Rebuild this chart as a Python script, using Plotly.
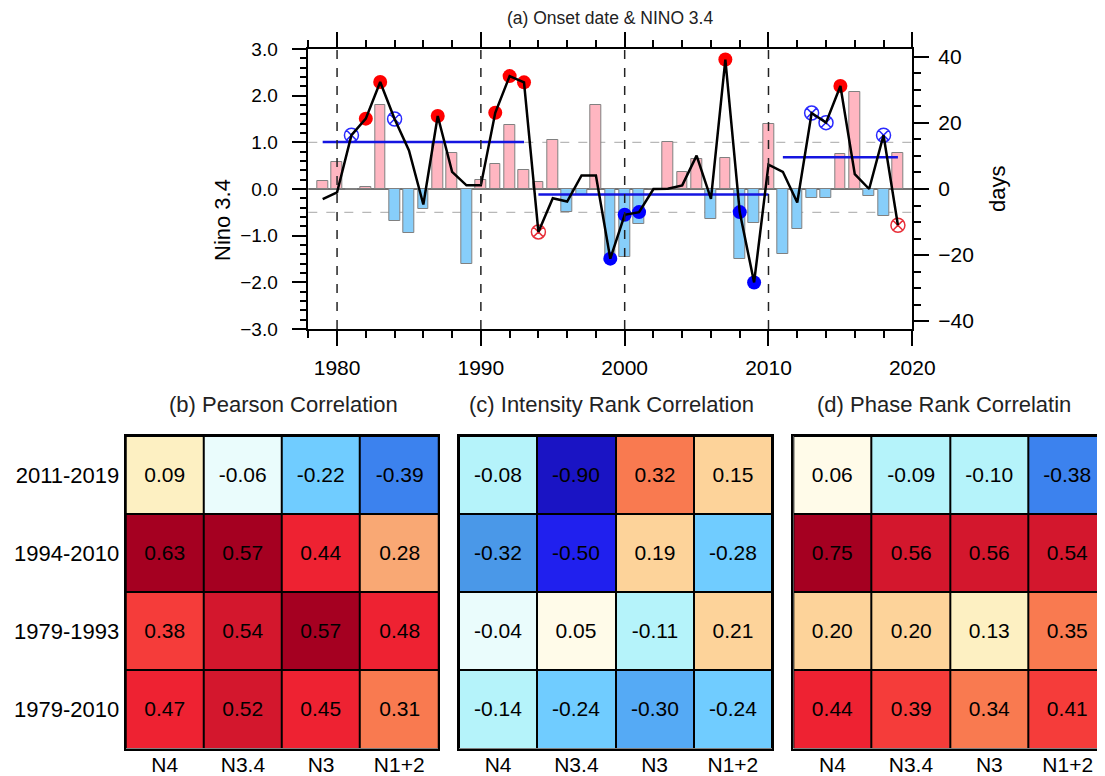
import plotly.graph_objects as go

# ---------------- data ----------------
years = list(range(1979, 2020))
nino34 = [0.17, 0.58, -0.03, 0.04, 1.81, -0.69, -0.94, -0.42, 1.00, 0.77,
          -1.61, 0.20, 0.53, 1.38, 0.41, 0.15, 1.05, -0.49, -0.13, 1.81,
          -1.48, -1.46, -0.74, 0.00, 1.00, 0.36, 0.64, -0.65, 0.66, -1.51,
          -0.72, 1.39, -1.40, -0.85, -0.19, -0.19, 0.74, 2.08, -0.16, -0.58, 0.77]
onset_days = [-3.1, -1.0, 16.3, 21.3, 32.4, 21.2, 11.7, -4.7, 22.1, 5.2,
              1.1, 1.1, 23.1, 34.2, 32.3, -13.0, -2.8, -3.8, 4.1, 4.1,
              -21.1, -7.8, -7.0, 0.0, 0.1, 1.1, 10.1, -3.0, 39.2, -7.0,
              -28.3, 7.4, 5.2, -4.1, 23.0, 20.1, 31.2, 4.5, 0.0, 16.3, -11.0]
red_dot_years = [1982, 1983, 1987, 1991, 1992, 1993, 2007, 2015]
blue_dot_years = [1999, 2000, 2001, 2008, 2009]
blue_cross_years = [1981, 1984, 2013, 2014, 2018]
red_cross_years = [1994, 2019]
period_start = [1979, 1994, 2011]
period_end = [1993, 2010, 2019]
period_mean_days = [14.2, -1.7, 9.6]
decade_lines = [1980, 1990, 2000, 2010]
nino_thresholds = [1.0, -0.5]

indices = ["N4", "N3.4", "N3", "N1+2"]
periods = ["2011-2019", "1994-2010", "1979-1993", "1979-2010"]
pearson = [[0.09, -0.06, -0.22, -0.39],
           [0.63, 0.57, 0.44, 0.28],
           [0.38, 0.54, 0.57, 0.48],
           [0.47, 0.52, 0.45, 0.31]]
intensity_rank = [[-0.08, -0.90, 0.32, 0.15],
                  [-0.32, -0.50, 0.19, -0.28],
                  [-0.04, 0.05, -0.11, 0.21],
                  [-0.14, -0.24, -0.30, -0.24]]
phase_rank = [[0.06, -0.09, -0.10, -0.38],
              [0.75, 0.56, 0.56, 0.54],
              [0.20, 0.20, 0.13, 0.35],
              [0.44, 0.39, 0.34, 0.41]]

# discrete colour levels
levels = [-1, -0.6, -0.45, -0.35, -0.31, -0.29, -0.2, -0.07, 0, 0.07, 0.14,
          0.25, 0.3, 0.37, 0.43, 0.5, 0.565, 1]
level_colors = ["#1a14c4", "#2020ee", "#3c82ee", "#4a98e8", "#55aaf5", "#70ccff",
                "#b5f3fa", "#eafcfc", "#fffbe9", "#fdf0c2", "#fdd39a", "#f9a874",
                "#f97a50", "#f53c3a", "#ee2232", "#d3172d", "#a50021"]

# ---------------- helpers ----------------
OFF = 8  # page body margin of the html page
W, H = 1105 - OFF, 776 - OFF
FONT = "Liberation Sans, Arial, Helvetica, sans-serif"


def px(x):
    return (x - OFF) / W


def py(y):
    return 1 - (y - OFF) / H


colorscale = []
for i, c in enumerate(level_colors):
    colorscale.append([(levels[i] + 1) / 2, c])
    colorscale.append([(levels[i + 1] + 1) / 2, c])

fig = go.Figure()

# bars
bar_colors = ["#ffb6c1" if v >= 0 else "#87cefa" for v in nino34]
fig.add_trace(go.Bar(x=years, y=nino34, width=0.75, marker_color=bar_colors,
                     marker_line=dict(color="#808080", width=1),
                     xaxis="x", yaxis="y", showlegend=False))

day_of = dict(zip(years, onset_days))


def marker_trace(yrs, symbol, color, size, lw=1.5):
    return go.Scatter(x=yrs, y=[day_of[y] for y in yrs], mode="markers",
                      marker=dict(symbol=symbol, color=color, size=size,
                                  line=dict(color=color, width=lw)),
                      xaxis="x", yaxis="y2", showlegend=False)


fig.add_trace(marker_trace(red_dot_years, "circle", "#ff0000", 14, 0))
fig.add_trace(marker_trace(blue_dot_years, "circle", "#0000ff", 14, 0))
fig.add_trace(marker_trace(blue_cross_years, "circle-x-open", "#2a2aff", 14))
fig.add_trace(marker_trace(red_cross_years, "circle-x-open", "#e8303a", 14))

# mean lines
for s, e, m in zip(period_start, period_end, period_mean_days):
    fig.add_trace(go.Scatter(x=[s, e], y=[m, m], mode="lines",
                             line=dict(color="#1515e0", width=2.5),
                             xaxis="x", yaxis="y2", showlegend=False))

# onset line
fig.add_trace(go.Scatter(x=years, y=onset_days, mode="lines",
                         line=dict(color="black", width=2.5),
                         xaxis="x", yaxis="y2", showlegend=False))

# heatmaps
heat_data = [pearson, intensity_rank, phase_rank]
for k, z in enumerate(heat_data):
    fig.add_trace(go.Heatmap(z=z, x=indices, y=periods, zmin=-1, zmax=1,
                             colorscale=colorscale, showscale=False,
                             xgap=2, ygap=2,
                             texttemplate="%{z:.2f}",
                             textfont=dict(size=21, color="black", family=FONT),
                             xaxis="x%d" % (k + 2), yaxis="y%d" % (k + 3),
                             hoverinfo="skip"))

# ---------------- layout ----------------
top_dom_x = [px(308.3), px(912.3)]
top_dom_y = [py(329), py(49)]
heat_dom_y = [py(748.5), py(436)]
heat_dom_x = [[px(125.7), px(438.3)], [px(459), px(772)], [px(793.3), 1.0]]

axis_common = dict(showline=True, linecolor="black", linewidth=1.5, automargin=False,
                   tickcolor="black", tickwidth=1.5, showgrid=False, zeroline=False)

layout = dict(
    width=W, height=H,
    margin=dict(l=0, r=0, t=0, b=0, autoexpand=False),
    paper_bgcolor="white", plot_bgcolor="white",
    font=dict(family=FONT, color="black"),
    bargap=0,
    xaxis=dict(domain=top_dom_x, range=[1978, 2020], anchor="y",
               tickvals=[1980, 1990, 2000, 2010, 2020], ticks="outside", ticklen=15,
               mirror="ticks", tickfont=dict(size=21), ticklabelstandoff=4,
               minor=dict(tick0=1978, dtick=2, ticklen=7, ticks="outside",
                          tickcolor="black", tickwidth=1.5),
               **axis_common),
    yaxis=dict(domain=top_dom_y, range=[-3, 3], anchor="x",
               tickvals=[-3, -2, -1, 0, 1, 2, 3], tickformat=".1f",
               ticks="outside", ticklen=15, tickfont=dict(size=19),
               ticklabelstandoff=10,
               minor=dict(dtick=0.2, ticklen=7, ticks="outside",
                          tickcolor="black", tickwidth=1.5),
               **axis_common),
    yaxis2=dict(domain=top_dom_y, range=[-42.4, 42.4], anchor="x", overlaying="y",
                side="right", tickvals=[-40, -20, 0, 20, 40], ticks="outside",
                ticklen=15, tickfont=dict(size=21), ticklabelstandoff=5,
                minor=dict(dtick=5, ticklen=7, ticks="outside",
                           tickcolor="black", tickwidth=1.5),
                **axis_common),
)

for k in range(3):
    xa = "xaxis%d" % (k + 2)
    ya = "yaxis%d" % (k + 3)
    xr = [-0.5, 3.5] if k < 2 else [-0.5, 3.475]
    layout[xa] = dict(domain=heat_dom_x[k], anchor="y%d" % (k + 3), range=xr,
                      showline=True, linecolor="black", linewidth=2, mirror=True,
                      ticks="", showgrid=False, zeroline=False, automargin=False,
                      tickfont=dict(size=21), ticklabelstandoff=-4)
    layout[ya] = dict(domain=heat_dom_y, anchor="x%d" % (k + 2), range=[3.5, -0.5],
                      showline=True, linecolor="black", linewidth=2, mirror=True,
                      ticks="", showgrid=False, zeroline=False, automargin=False,
                      showticklabels=(k == 0), tickfont=dict(size=22))

fig.update_layout(**layout)

shapes = []
# black backgrounds for heatmap gaps
for k in range(3):
    shapes.append(dict(type="rect", xref="x%d domain" % (k + 2), yref="y%d domain" % (k + 3),
                       x0=0, x1=1, y0=0, y1=1, fillcolor="black",
                       line=dict(width=0), layer="below"))
# zero line
shapes.append(dict(type="line", xref="x domain", yref="y", x0=0, x1=1, y0=0, y1=0,
                   line=dict(color="#444444", width=1.5), layer="below"))
for t in nino_thresholds:
    shapes.append(dict(type="line", xref="x domain", yref="y", x0=0, x1=1, y0=t, y1=t,
                       line=dict(color="#b8b8b8", width=1.2, dash="dash"), layer="below"))
for d in decade_lines:
    shapes.append(dict(type="line", xref="x", yref="y domain", x0=d, x1=d, y0=0, y1=1,
                       line=dict(color="#222222", width=1.5, dash="dash")))
fig.update_layout(shapes=shapes)

annotations = [
    dict(text="(a) Onset date & NINO 3.4", x=px(610), y=py(18), size=17.5),
    dict(text="(b) Pearson Correlation", x=px(283), y=py(404), size=22),
    dict(text="(c) Intensity Rank Correlation", x=px(611), y=py(404), size=22),
    dict(text="(d) Phase Rank Correlatin", x=px(944), y=py(404), size=22),
]
ann = []
for a in annotations:
    ann.append(dict(text=a["text"], x=a["x"], y=a["y"], xref="paper", yref="paper",
                    showarrow=False, xanchor="center", yanchor="middle",
                    font=dict(size=a["size"], color="#222222", family=FONT)))
ann.append(dict(text="Nino 3.4", x=px(222), y=py(220), xref="paper", yref="paper",
                showarrow=False, textangle=-90, xanchor="center", yanchor="middle",
                font=dict(size=22, color="black", family=FONT)))
ann.append(dict(text="days", x=px(997), y=py(189), xref="paper", yref="paper",
                showarrow=False, textangle=-90, xanchor="center", yanchor="middle",
                font=dict(size=22, color="black", family=FONT)))
fig.update_layout(annotations=ann)

fig.write_html("out.html")
